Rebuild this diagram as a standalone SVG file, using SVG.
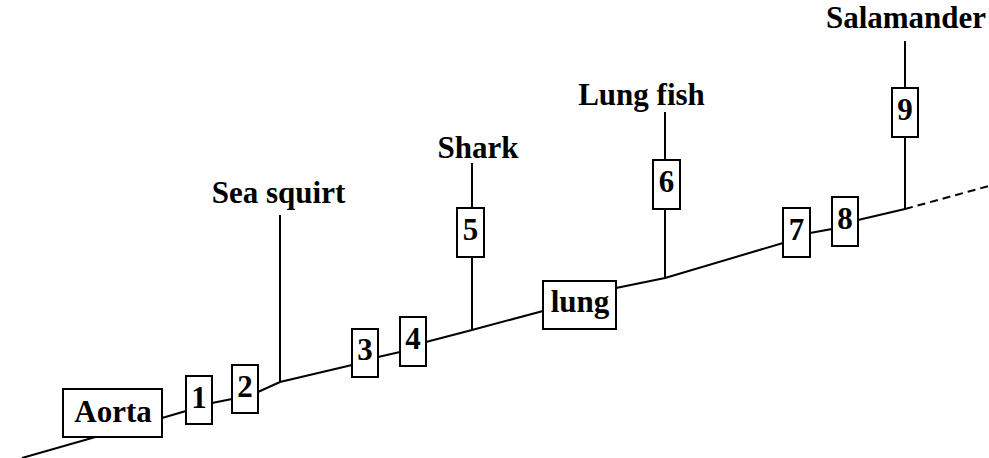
<svg xmlns="http://www.w3.org/2000/svg" width="989" height="458" viewBox="0 0 989 458">
<style>
.ln{fill:none;stroke:#000;stroke-width:2}
.bx{fill:#fff;stroke:#000;stroke-width:2}
text{font-family:"Liberation Serif","Times New Roman",serif;font-weight:bold;font-size:31px;text-anchor:middle;fill:#000}
</style>
<rect width="989" height="458" fill="#fff"/>
<g id="connectors">
<polyline class="ln" points="22,458 162,418 186,411 212,403 232,399 258,392 280,382 352,365 378,357 400,352 426,342 472,330 543,311 616,288 665,278 783,243 810,233 832,229 858,220 905,209"/>
<line class="ln" x1="905" y1="209" x2="989" y2="186" stroke-dasharray="8,5"/>
<line class="ln" x1="280" y1="215" x2="280" y2="382"/>
<line class="ln" x1="472" y1="163" x2="472" y2="330"/>
<line class="ln" x1="665" y1="112" x2="665" y2="278"/>
<line class="ln" x1="905" y1="41" x2="905" y2="209"/>
</g>
<g id="aorta"><rect class="bx" x="63" y="389" width="99" height="48"/><text x="113" y="422">Aorta</text></g>
<g id="n1"><rect class="bx" x="186" y="376" width="26" height="48"/><text x="199" y="408">1</text></g>
<g id="n2"><rect class="bx" x="232" y="365" width="26" height="48"/><text x="245" y="397">2</text></g>
<g id="n3"><rect class="bx" x="352" y="329" width="26" height="48"/><text x="365" y="360">3</text></g>
<g id="n4"><rect class="bx" x="400" y="317" width="26" height="49"/><text x="413" y="349">4</text></g>
<g id="n5"><rect class="bx" x="457" y="208" width="27" height="49"/><text x="470.5" y="240">5</text></g>
<g id="lung"><rect class="bx" x="543" y="281" width="73" height="48"/><text x="580" y="312">lung</text></g>
<g id="n6"><rect class="bx" x="653" y="160" width="27" height="49"/><text x="666.5" y="192">6</text></g>
<g id="n7"><rect class="bx" x="783" y="208" width="27" height="49"/><text x="796.5" y="240">7</text></g>
<g id="n8"><rect class="bx" x="832" y="197" width="26" height="49"/><text x="845" y="229">8</text></g>
<g id="n9"><rect class="bx" x="892" y="88" width="26" height="49"/><text x="905" y="120">9</text></g>
<g id="sea-squirt"><text x="278.5" y="203">Sea squirt</text></g>
<g id="shark"><text x="478" y="158">Shark</text></g>
<g id="lung-fish"><text x="641.5" y="105">Lung fish</text></g>
<g id="salamander"><text x="906" y="28">Salamander</text></g>
</svg>
